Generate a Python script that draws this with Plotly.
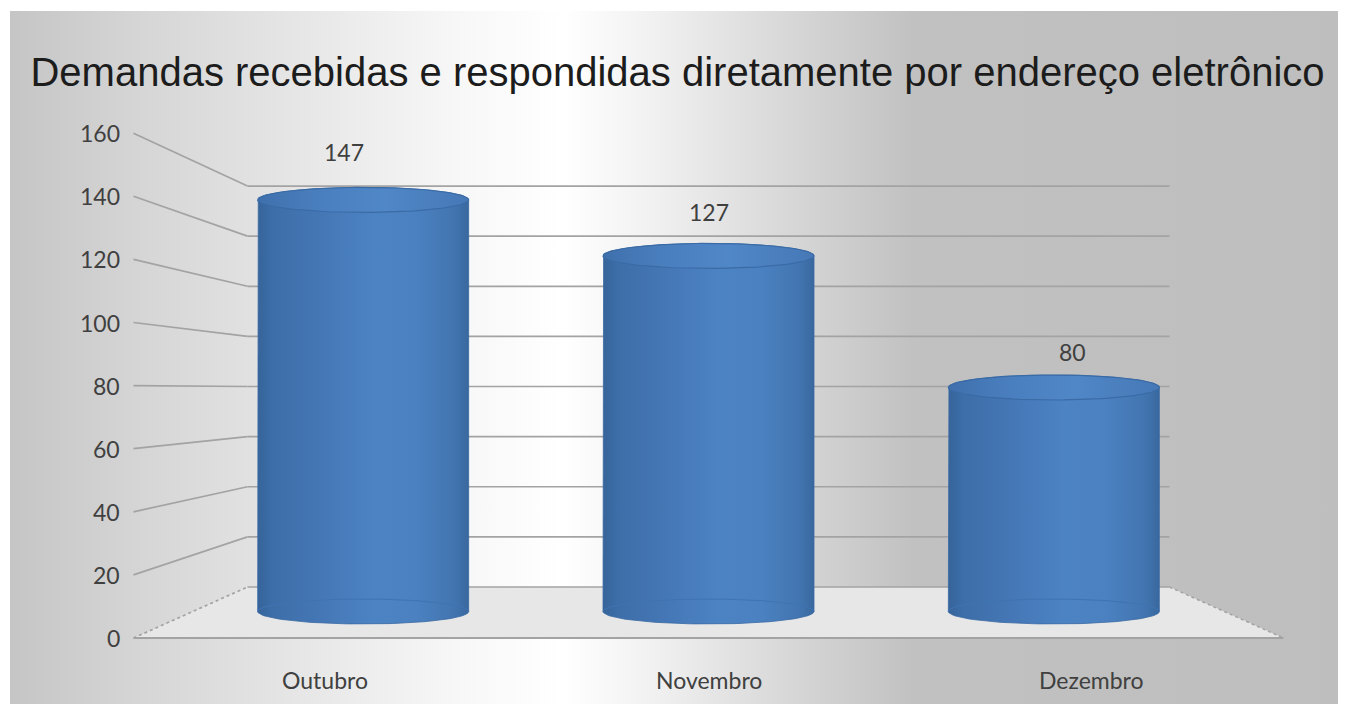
import numpy as np
import plotly.graph_objects as go

# ---------------- data ----------------
categories = ["Outubro", "Novembro", "Dezembro"]
values = [147, 127, 80]
y_ticks = [0, 20, 40, 60, 80, 100, 120, 140, 160]
title_text = "Demandas recebidas e respondidas diretamente por endereço eletrônico"

# ---------------- geometry (pseudo 3D projection) ----------------
OFF = 8                      # page body margin
FIG_W, FIG_H = 1346, 704 - OFF
CX = 708.5                   # horizontal centre of the floor (screen px)
MID_W = 1036.0               # floor width on the middle plane
MID_Y0 = 611.5               # value 0 on the middle plane
MID_S = 2.80                 # px per unit on the middle plane


def W(t):
    return MID_W - 114.0 * t


def Y0(t):
    return MID_Y0 - (26.5 * t if t < 0 else 24.5 * t)


def S(t):
    return MID_S - (0.355 * t if t < 0 else 0.294 * t)


def px_to_data(px, py):
    return 1 + (px - CX) / (MID_W / 3), (MID_Y0 - py) / MID_S


def proj(c, v, t):
    """category coord c, value v, depth t (-1 front, 0 middle, 1 back) -> data coords."""
    px = CX + (c - 1) * W(t) / 3
    py = Y0(t) - S(t) * v
    return px_to_data(px, py)


xr0, yr_top = px_to_data(OFF, OFF)
xr1, yr_bot = px_to_data(OFF + FIG_W, OFF + FIG_H)

fig = go.Figure()

# chart-area background with horizontal gradient
bx0, by0 = px_to_data(10, 11)
bx1, by1 = px_to_data(1360, 720)
fig.add_trace(go.Scatter(
    x=[bx0, bx1, bx1, bx0, bx0], y=[by0, by0, by1, by1, by0],
    mode="lines", line=dict(width=0), fill="toself",
    fillgradient=dict(type="horizontal", colorscale=[
        [0.0, "#c5c5c5"], [0.10, "#d6d6d6"], [0.22, "#e7e7e7"], [0.33, "#f7f7f7"],
        [0.41, "#ffffff"], [0.48, "#f0f0f0"], [0.59, "#d4d4d4"], [0.67, "#c1c1c1"],
        [1.0, "#bebebe"]]),
    hoverinfo="skip", showlegend=False))

GRID = "#a3a3a3"
left_c, right_c = -0.5, len(categories) - 0.5

# floor
fl = [proj(left_c, 0, 1), proj(right_c, 0, 1), proj(right_c, 0, -1), proj(left_c, 0, -1)]
fig.add_trace(go.Scatter(
    x=[p[0] for p in fl] + [fl[0][0]], y=[p[1] for p in fl] + [fl[0][1]],
    mode="lines", line=dict(width=0), fill="toself", fillcolor="#e7e7e7",
    hoverinfo="skip", showlegend=False))

# gridlines: back wall + side wall
for v in y_ticks:
    a = proj(left_c, v, -1)
    b = proj(left_c, v, 1)
    c = proj(right_c, v, 1)
    fig.add_trace(go.Scatter(
        x=[a[0], b[0]], y=[a[1], b[1]], mode="lines",
        line=dict(color=GRID, width=1.7, dash="dot" if v == 0 else "solid"),
        hoverinfo="skip", showlegend=False))
    fig.add_trace(go.Scatter(
        x=[b[0], c[0]], y=[b[1], c[1]], mode="lines",
        line=dict(color=GRID, width=1.7), hoverinfo="skip", showlegend=False))

# floor front edge and right edge
a, b = proj(left_c, 0, -1), proj(right_c, 0, -1)
fig.add_trace(go.Scatter(x=[a[0], b[0]], y=[a[1], b[1]], mode="lines",
                         line=dict(color=GRID, width=1.8), hoverinfo="skip", showlegend=False))
a, b = proj(right_c, 0, 1), proj(right_c, 0, -1)
fig.add_trace(go.Scatter(x=[a[0], b[0]], y=[a[1], b[1]], mode="lines",
                         line=dict(color=GRID, width=1.5, dash="dot"), hoverinfo="skip", showlegend=False))

# cylinders
R = 105.5 / (MID_W / 3)       # radius in category units
B = 12.5 / MID_S              # ellipse half-height in value units
th_back = np.linspace(np.pi, 0, 60)
th_front = np.linspace(0, -np.pi, 60)
body_scale = [[0.0, "#36649a"], [0.07, "#3d6ea8"], [0.3, "#4577b6"], [0.55, "#4c83c3"],
              [0.75, "#4b81c1"], [0.93, "#4275b0"], [1.0, "#39689e"]]
top_scale = [[0.0, "#3f70ac"], [0.3, "#4a7fbf"], [0.6, "#5087c7"], [1.0, "#4678b6"]]

for i, v in enumerate(values):
    bx = list(i + R * np.cos(th_back))
    by = list(v + B * np.sin(th_back))
    fx = list(i + R * np.cos(th_front))
    fy = list(0 + B * np.sin(th_front))
    xs = [i - R] + bx + [i + R] + fx
    ys = [0] + by + [0] + fy
    fig.add_trace(go.Scatter(
        x=xs, y=ys, mode="lines", line=dict(width=0.8, color="#3a6aa3"), fill="toself",
        fillgradient=dict(type="horizontal", colorscale=body_scale),
        hoverinfo="skip", showlegend=False))
    # back arc of the base (seen through)
    fig.add_trace(go.Scatter(
        x=list(i + R * np.cos(th_back)), y=list(0 + B * np.sin(th_back)), mode="lines",
        line=dict(width=1, color="#3f73b2"), hoverinfo="skip", showlegend=False))
    # top ellipse
    th = np.linspace(0, 2 * np.pi, 120)
    fig.add_trace(go.Scatter(
        x=list(i + R * np.cos(th)), y=list(v + B * np.sin(th)), mode="lines",
        line=dict(width=1.2, color="#3a6ba6"), fill="toself",
        fillgradient=dict(type="horizontal", colorscale=top_scale),
        hoverinfo="skip", showlegend=False))

annotations = []
TXT = "#404040"
LBL_FONT = "Lato, 'Noto Sans', sans-serif"
# value axis labels (front-left edge of the side wall)
for v in y_ticks:
    x, y = proj(left_c, v, -1)
    annotations.append(dict(x=x, y=y, xref="x", yref="y", text=str(v), showarrow=False,
                            xanchor="right", yanchor="middle", xshift=-12,
                            font=dict(family=LBL_FONT, size=23, color=TXT)))
# category labels (front edge)
for i, cat in enumerate(categories):
    x, y = proj(i, 0, -1)
    annotations.append(dict(x=x, y=y, xref="x", yref="y", text=cat, showarrow=False,
                            xanchor="center", yanchor="middle", yshift=-42,
                            font=dict(family=LBL_FONT, size=23, color=TXT)))
# data labels
for i, v in enumerate(values):
    x, y = proj(i, v, -0.5)
    annotations.append(dict(x=x, y=y, xref="x", yref="y", text=str(v), showarrow=False,
                            xanchor="center", yanchor="middle", yshift=35,
                            font=dict(family=LBL_FONT, size=23, color=TXT)))

fig.update_layout(
    width=FIG_W, height=FIG_H,
    margin=dict(l=0, r=0, t=0, b=0),
    paper_bgcolor="white", plot_bgcolor="rgba(0,0,0,0)",
    title=dict(text=title_text, x=(677.5 - OFF) / FIG_W, y=1 - (72 - OFF) / FIG_H,
               xanchor="center", yanchor="middle", xref="paper", yref="paper",
               font=dict(family="'Liberation Sans', Arial, sans-serif", size=40, color="#1c1c1c")),
    xaxis=dict(range=[xr0, xr1], visible=False, fixedrange=True),
    yaxis=dict(range=[yr_bot, yr_top], visible=False, fixedrange=True),
    annotations=annotations,
    showlegend=False,
)

fig.write_html("out.html")
